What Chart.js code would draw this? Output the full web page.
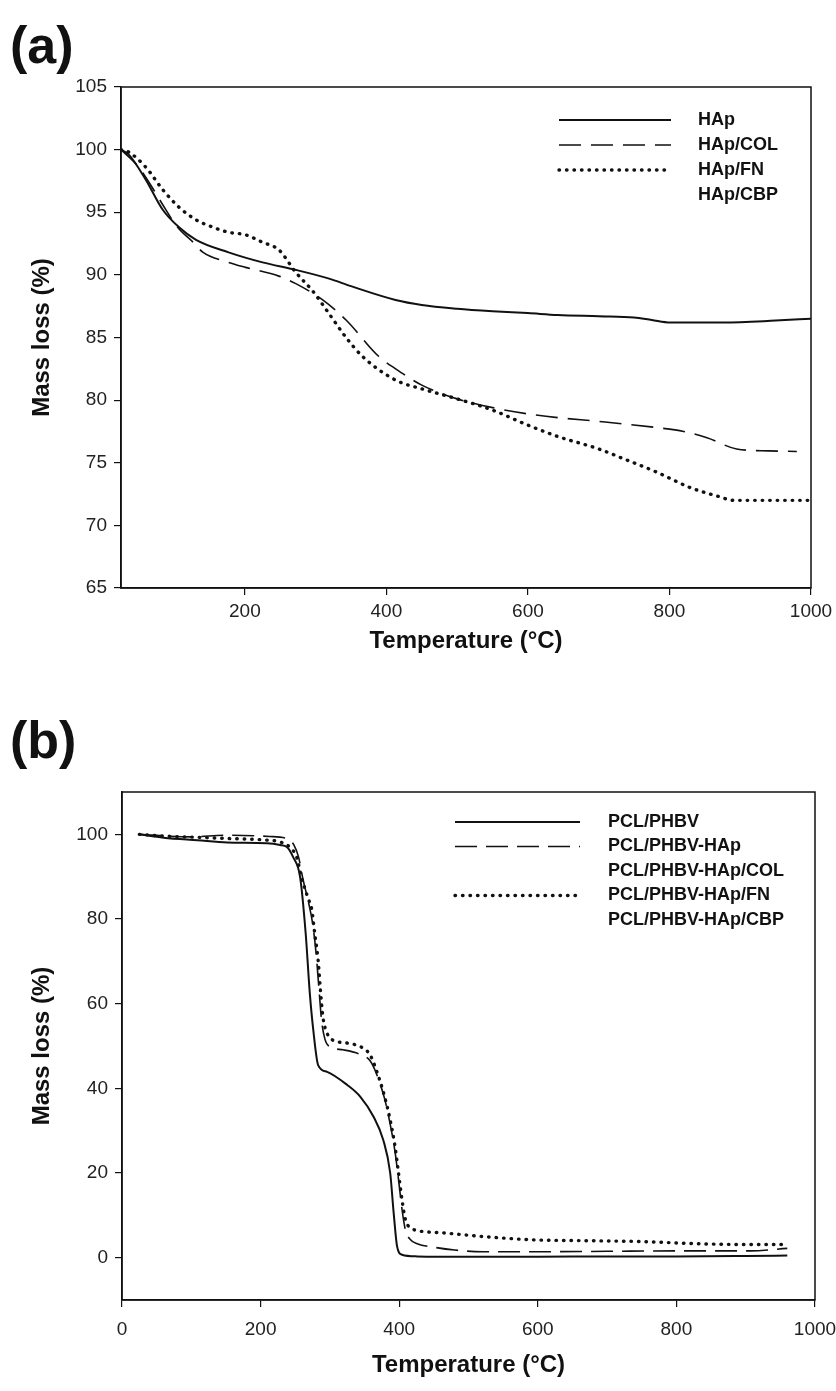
<!DOCTYPE html>
<html>
<head>
<meta charset="utf-8">
<script src="https://cdn.jsdelivr.net/npm/chart.js@4.4.1/dist/chart.umd.min.js"></script>
<style>
    body { margin: 0; background: #fff; width: 836px; height: 1391px; position: relative; overflow: hidden; }
    canvas { position: absolute; left: 0; }
    .panel { position: absolute; left: 10px; font: bold 52px "Liberation Sans", Arial, sans-serif; line-height: 52px; color: #111; }
</style>
</head>
<body>
<div class="panel" style="top:19px">(a)</div>
<canvas id="chartA" width="836" height="680" style="top:0"></canvas>
<div class="panel" style="top:714px">(b)</div>
<canvas id="chartB" width="836" height="691" style="top:700px"></canvas>
<script>
// ---- panel (a): HAp composites, 25-1000 C ----
const aXTicks = [200, 400, 600, 800, 1000];
const aYTicks = [65, 70, 75, 80, 85, 90, 95, 100, 105];

const aHapT = [25, 36, 60, 84, 107, 131, 177, 225, 272, 319, 350, 413, 450, 500, 550, 600, 642, 700, 750, 775, 801, 876, 950, 1000];
const aHapM = [100, 99.6, 97.6, 95.2, 93.8, 92.8, 91.8, 91.0, 90.4, 89.7, 89.1, 88.0, 87.6, 87.3, 87.1, 86.95, 86.8, 86.7, 86.6, 86.4, 86.2, 86.2, 86.35, 86.5];

const aColT = [25, 50, 70, 84, 105, 127, 141, 177, 201, 248, 272, 310, 343, 389, 413, 450, 500, 550, 600, 642, 700, 783, 820, 853, 895, 940, 980];
const aColM = [100, 98.6, 96.9, 95.6, 93.8, 92.6, 91.8, 91.0, 90.6, 89.9, 89.3, 88.0, 86.4, 83.5, 82.5, 81.2, 80.1, 79.4, 78.9, 78.6, 78.3, 77.8, 77.5, 77.0, 76.1, 75.95, 75.9];

const aFnT = [25, 36, 60, 84, 107, 131, 155, 177, 201, 225, 248, 272, 296, 319, 343, 366, 413, 450, 500, 550, 600, 642, 700, 736, 780, 830, 870, 890, 950, 1000];
const aFnM = [100, 99.8, 98.6, 96.8, 95.4, 94.4, 93.8, 93.4, 93.2, 92.6, 92.0, 90.2, 88.7, 86.9, 85.0, 83.5, 81.6, 80.9, 80.1, 79.2, 78.0, 77.1, 76.1, 75.3, 74.3, 73.0, 72.3, 72.0, 72.0, 72.0];

// ---- panel (b): PCL/PHBV scaffolds, 25-960 C ----
const bXTicks = [0, 200, 400, 600, 800, 1000];
const bYTicks = [0, 20, 40, 60, 80, 100];

const bPclT = [25, 60, 109, 152, 209, 228, 238, 247, 257, 265, 271, 276, 283, 296, 325, 344, 363, 377, 387, 392, 397, 404, 426, 500, 600, 700, 800, 900, 960];
const bPclM = [100, 99.2, 98.6, 98.1, 97.9, 97.5, 97.0, 94.6, 89.9, 76.7, 62.5, 53.8, 45.5, 43.9, 40.8, 38.0, 33.3, 27.8, 20.0, 10.6, 2.6, 0.7, 0.3, 0.2, 0.2, 0.3, 0.3, 0.4, 0.5];

const bHapT = [25, 100, 150, 213, 238, 248, 255, 261, 269, 275, 280, 284, 288, 293, 300, 319, 344, 358, 367, 379, 387, 394, 399, 404, 409, 416, 426, 449, 480, 520, 600, 700, 800, 907, 960];
const bHapM = [100, 99.4, 99.8, 99.5, 99.0, 97.5, 94.5, 89.5, 84, 79, 72, 64, 56, 51.5, 49.8, 49.1, 48.0, 46.5, 43.5, 37.5, 31.5, 25, 18.5, 11.5, 6.5, 4.3, 3.3, 2.5, 1.8, 1.4, 1.4, 1.5, 1.6, 1.6, 2.2];

const bFnT = [25, 60, 109, 155, 203, 228, 242, 252, 259, 268, 274, 278, 283, 286, 290, 296, 304, 325, 348, 358, 367, 379, 387, 394, 399, 404, 409, 416, 440, 460, 520, 595, 673, 751, 829, 907, 960];
const bFnM = [100, 99.6, 99.3, 99.0, 98.7, 98.2, 97.0, 94.6, 89.9, 85.1, 82.1, 76.7, 70.3, 63.9, 56.8, 53.0, 51.4, 50.7, 49.5, 47.9, 44.3, 38.0, 32.5, 26.2, 20.0, 13.7, 9.0, 7.1, 6.1, 5.9, 5.0, 4.2, 4.0, 3.8, 3.3, 3.1, 3.1];

const pts = (xs, ys) => xs.map((x, i) => ({ x: x, y: ys[i] }));

const tickFont = { family: '"Liberation Sans", Arial, sans-serif', size: 19 };
const titleFont = { family: '"Liberation Sans", Arial, sans-serif', size: 24, weight: 'bold' };
const legendFont = 'bold 18px "Liberation Sans", Arial, sans-serif';

const solid = { borderColor: '#111', borderWidth: 2, borderDash: [], borderCapStyle: 'butt' };
const dashed = { borderColor: '#111', borderWidth: 1.6, borderDash: [22, 10], borderCapStyle: 'butt' };
const dotted = { borderColor: '#111', borderWidth: 3.4, borderDash: [0.5, 7], borderCapStyle: 'round' };

// box round the plot area
const frame = {
    id: 'frame',
    afterDraw(chart) {
        const a = chart.chartArea, ctx = chart.ctx;
        ctx.save();
        ctx.strokeStyle = '#111';
        ctx.lineWidth = 1.5;
        ctx.strokeRect(a.left, a.top, a.right - a.left, a.bottom - a.top);
        ctx.restore();
    }
};

// legend with line samples, as in the figure
const lineLegend = {
    id: 'lineLegend',
    afterDraw(chart, args, opts) {
        const ctx = chart.ctx;
        ctx.save();
        ctx.font = legendFont;
        ctx.textBaseline = 'middle';
        ctx.fillStyle = '#111';
        chart.data.datasets.forEach((ds, i) => {
            const y = opts.y + i * opts.gap;
            if (ds.data.length) {
                ctx.beginPath();
                ctx.setLineDash(ds.borderDash);
                ctx.lineWidth = ds.borderWidth;
                ctx.lineCap = ds.borderCapStyle;
                ctx.strokeStyle = ds.borderColor;
                ctx.moveTo(opts.x0, y);
                ctx.lineTo(opts.x1, y);
                ctx.stroke();
            }
            ctx.fillText(ds.label, opts.tx, y);
        });
        ctx.restore();
    }
};

function makeScales(o) {
    const common = {
        type: 'linear',
        grid: { drawOnChartArea: false, drawTicks: true, tickLength: 7, color: '#111', lineWidth: 1.2 },
        border: { display: true, color: '#111', width: 1.5 },
        ticks: { font: tickFont, color: '#222', callback: v => String(v) }
    };
    return {
        x: Object.assign({}, common, {
            min: o.xMin, max: o.xMax,
            afterBuildTicks: s => { s.ticks = o.xTicks.map(v => ({ value: v })); },
            afterFit: s => { s.height = o.xHeight; s.paddingLeft = 0; s.paddingRight = 0; },
            ticks: Object.assign({}, common.ticks, { padding: o.xPad, maxRotation: 0, autoSkip: false }),
            title: { display: true, text: 'Temperature (\u00B0C)', font: titleFont, color: '#111', padding: { top: 0, bottom: o.xTitlePad } }
        }),
        y: Object.assign({}, common, {
            min: o.yMin, max: o.yMax,
            afterBuildTicks: s => { s.ticks = o.yTicks.map(v => ({ value: v })); },
            afterFit: s => { s.width = o.yWidth; },
            ticks: Object.assign({}, common.ticks, { padding: 7 }),
            title: { display: true, text: 'Mass loss (%)', font: titleFont, color: '#111', padding: { top: 28, bottom: 0 } }
        })
    };
}

const baseOpts = {
    responsive: false,
    animation: false,
    events: [],
    elements: { point: { radius: 0 }, line: { cubicInterpolationMode: 'monotone', fill: false } },
    plugins: { legend: { display: false }, tooltip: { enabled: false } }
};

new Chart(document.getElementById('chartA').getContext('2d'), {
    type: 'line',
    data: {
        datasets: [
            Object.assign({ label: 'HAp', data: pts(aHapT, aHapM) }, solid),
            Object.assign({ label: 'HAp/COL', data: pts(aColT, aColM) }, dashed),
            Object.assign({ label: 'HAp/FN', data: pts(aFnT, aFnM) }, dotted),
            Object.assign({ label: 'HAp/CBP', data: [] }, solid)
        ]
    },
    options: Object.assign({}, baseOpts, {
        layout: { padding: { top: 87, right: 25, left: 0, bottom: 0 } },
        scales: makeScales({ xMin: 25, xMax: 1000, xTicks: aXTicks, yMin: 65, yMax: 105, yTicks: aYTicks,
            yWidth: 121, xHeight: 92, xPad: 5, xTitlePad: 24 }),
        plugins: Object.assign({}, baseOpts.plugins, {
            lineLegend: { x0: 559, x1: 671, tx: 698, y: 120, gap: 25 }
        })
    }),
    plugins: [frame, lineLegend]
});

new Chart(document.getElementById('chartB').getContext('2d'), {
    type: 'line',
    data: {
        datasets: [
            Object.assign({ label: 'PCL/PHBV', data: pts(bPclT, bPclM) }, solid),
            Object.assign({ label: 'PCL/PHBV-HAp', data: pts(bHapT, bHapM) }, dashed, { borderDash: [22, 9] }),
            Object.assign({ label: 'PCL/PHBV-HAp/COL', data: [] }, solid),
            Object.assign({ label: 'PCL/PHBV-HAp/FN', data: pts(bFnT, bFnM) }, dotted),
            Object.assign({ label: 'PCL/PHBV-HAp/CBP', data: [] }, solid)
        ]
    },
    options: Object.assign({}, baseOpts, {
        layout: { padding: { top: 92, right: 21, left: 0, bottom: 0 } },
        scales: makeScales({ xMin: 0, xMax: 1000, xTicks: bXTicks, yMin: -10, yMax: 110, yTicks: bYTicks,
            yWidth: 122, xHeight: 91, xPad: 11, xTitlePad: 11 }),
        plugins: Object.assign({}, baseOpts.plugins, {
            lineLegend: { x0: 455, x1: 580, tx: 608, y: 122, gap: 24.5 }
        })
    }),
    plugins: [frame, lineLegend]
});
</script>
</body>
</html>
